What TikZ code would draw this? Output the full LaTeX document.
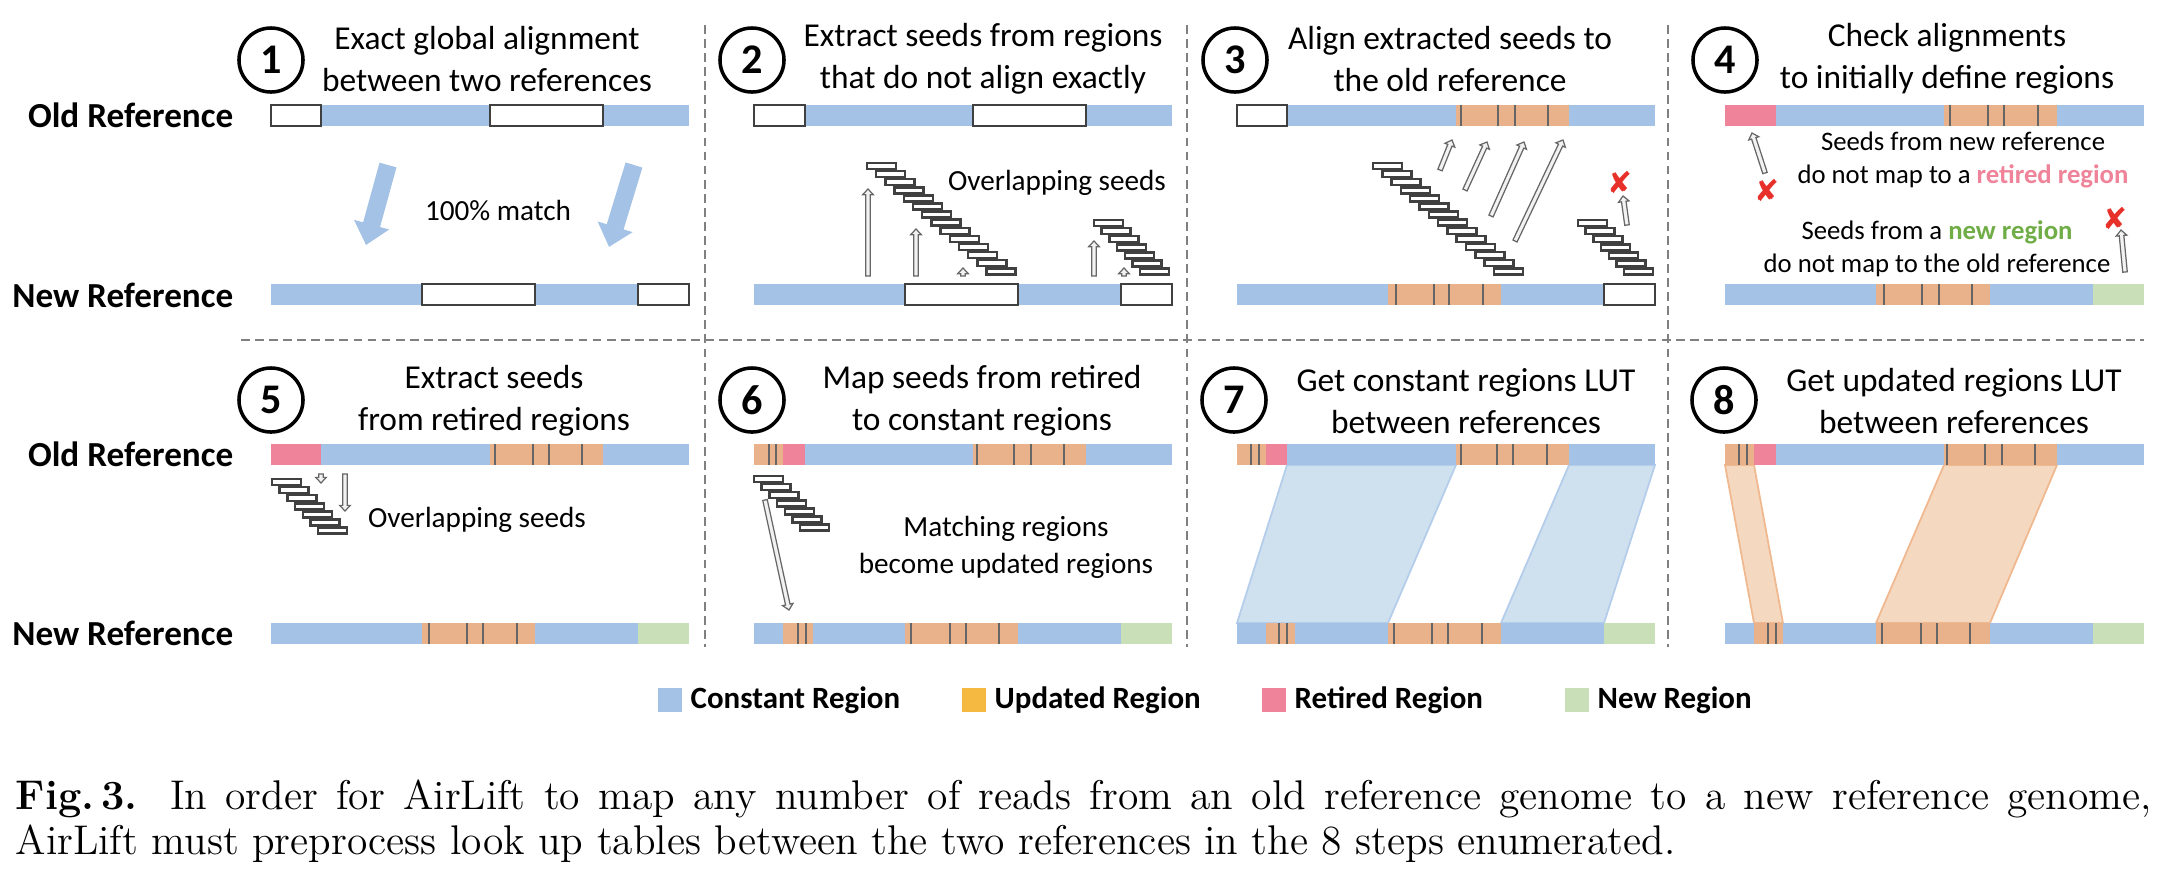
\documentclass[tikz,border=0pt]{standalone}
\usepackage{fontspec}
\newfontfamily\calib{Carlito}
\newfontfamily\symb{DejaVu Sans}
\usetikzlibrary{arrows.meta, calc}

\definecolor{constblue}{HTML}{A4C2E5}
\definecolor{updorange}{HTML}{EAB28A}
\definecolor{retpink}{HTML}{EF8399}
\definecolor{newgreen}{HTML}{C9DFB8}
\definecolor{legorange}{HTML}{F5B942}
\definecolor{mapblue}{HTML}{CFE0EF}
\definecolor{mapblueline}{HTML}{B4CDEA}
\definecolor{maporange}{HTML}{F4D8C0}
\definecolor{maporangeline}{HTML}{F0B88E}
\definecolor{seedgray}{HTML}{404040}
\definecolor{xred}{HTML}{E8302A}
\definecolor{txtgreen}{HTML}{70AD47}

% hollow seed arrow: #1 tail, #2 tip
\newcommand{\hollowarrow}[2]{%
  \coordinate (hb) at ($(#2)!1.6pt!(#1)$);
  \filldraw[hollow] ($(#1)!0.65pt!90:(#2)$) -- ($(hb)!0.65pt!-90:(#1)$)
    -- ($(hb)!1.5pt!-90:(#1)$) -- (#2) -- ($(hb)!1.5pt!90:(#1)$)
    -- ($(hb)!0.65pt!90:(#1)$) -- ($(#1)!0.65pt!-90:(#2)$) -- cycle;}

\begin{document}
\begin{tikzpicture}[x=0.01cm, y=-0.01cm,
  creg/.style ={fill=constblue},
  ureg/.style ={fill=updorange},
  rreg/.style ={fill=retpink},
  nreg/.style ={fill=newgreen},
  wbox/.style ={draw=seedgray, fill=white, line width=0.8pt},
  seam/.style ={draw=black!60, line width=0.6pt},
  seedbox/.style={draw=seedgray, fill=white, line width=0.7pt},
  hollow/.style={draw=black!60, fill=black!5, line width=0.35pt, line join=miter},
  bigarrow/.style={draw=constblue, line width=5pt, -{Triangle[length=6pt, width=10pt]}},
  sep/.style  ={draw=black!50, line width=0.5pt, dash pattern=on 2.5pt off 1.5pt},
  num/.style  ={circle, draw, line width=1pt, minimum size=6.4mm, inner sep=0pt,
                font=\calib\bfseries\fontsize{12}{12}\selectfont},
  steptitle/.style={align=center, inner sep=0pt, font=\calib\fontsize{9.5}{12}\selectfont},
  lbl/.style  ={anchor=east, inner sep=0pt, font=\calib\bfseries\fontsize{10}{11}\selectfont},
  note/.style ={align=center, inner sep=0pt, font=\calib\fontsize{8.3}{10.5}\selectfont},
  smallnote/.style={align=center, inner sep=0pt, font=\calib\fontsize{7.6}{9.4}\selectfont},
  xmark/.style={text=xred, inner sep=0pt, font=\symb\fontsize{8.5}{9}\selectfont},
  legsq/.style={minimum size=2.4mm, inner sep=0pt},
  legtxt/.style={anchor=west, inner sep=0pt, font=\calib\bfseries\fontsize{8.8}{10}\selectfont},
]
\useasboundingbox (0,0) rectangle (2162,884);

% panel separators
\draw[sep] (705,25) -- (705,647);
\draw[sep] (1187,25) -- (1187,647);
\draw[sep] (1668,25) -- (1668,647);
\draw[sep] (241,340) -- (2144,340);

% row labels
\node[lbl] (old1) at (234,115) {Old Reference};
\node[lbl] (new1) at (234,295) {New Reference};
\node[lbl] (old2) at (234,454) {Old Reference};
\node[lbl] (new2) at (234,633) {New Reference};

% step numbers and titles
\node[num] (n1) at (271,60)  {1};
\node[num] (n2) at (752,60)  {2};
\node[num] (n3) at (1235,60) {3};
\node[num] (n4) at (1725,60) {4};
\node[num] (n5) at (271,400) {5};
\node[num] (n6) at (752,400) {6};
\node[num] (n7) at (1234,400) {7};
\node[num] (n8) at (1724,400) {8};
\node[steptitle] (t1) at (487,59)  {Exact global alignment\\between two references};
\node[steptitle] (t2) at (983,59)  {Extract seeds from regions\\that do not align exactly};
\node[steptitle] (t3) at (1450,59) {Align extracted seeds to\\the old reference};
\node[steptitle] (t4) at (1947,59) {Check alignments\\to initially define regions};
\node[steptitle] (t5) at (494,401) {Extract seeds\\from retired regions};
\node[steptitle] (t6) at (982,401) {Map seeds from retired\\to constant regions};
\node[steptitle] (t7) at (1466,401) {Get constant regions LUT\\between references};
\node[steptitle] (t8) at (1954,401) {Get updated regions LUT\\between references};

% step 7 and 8 mappings
\filldraw[fill=mapblue, draw=mapblueline, line width=0.5pt]
  (1287,465) -- (1456,465) -- (1388,623) -- (1237,623) -- cycle;
\filldraw[fill=mapblue, draw=mapblueline, line width=0.5pt]
  (1569,465) -- (1655,465) -- (1604,623) -- (1501,623) -- cycle;
\filldraw[fill=maporange, draw=maporangeline, line width=0.5pt]
  (1725,465) -- (1754,465) -- (1783,623) -- (1754,623) -- cycle;
\filldraw[fill=maporange, draw=maporangeline, line width=0.5pt]
  (1944,465) -- (2057,465) -- (1990,623) -- (1876,623) -- cycle;

% step 1
\fill[creg] (271,105) rectangle (689,126);
\draw[wbox] (271,105) rectangle (321,126);
\draw[wbox] (490,105) rectangle (603,126);
\fill[creg] (271,284) rectangle (689,305);
\draw[wbox] (422,284) rectangle (535,305);
\draw[wbox] (638,284) rectangle (689,305);
\draw[bigarrow] (388,165) -- (366,245);
\draw[bigarrow] (634,165) -- (609,247);
\node[note] (m1) at (498,210) {100\% match};

% step 2
\fill[creg] (754,105) rectangle (1172,126);
\draw[wbox] (754,105) rectangle (805,126);
\draw[wbox] (973,105) rectangle (1086,126);
\fill[creg] (754,284) rectangle (1172,305);
\draw[wbox] (905,284) rectangle (1018,305);
\draw[wbox] (1121,284) rectangle (1172,305);
\foreach \i in {0,...,13}
  \draw[seedbox] ({867+9.2*\i},{163+8.1*\i}) rectangle ++(29,6);
\foreach \i in {0,...,6}
  \draw[seedbox] ({1094+7.7*\i},{220+8.1*\i}) rectangle ++(29,6);
\hollowarrow{868,276}{868,189}
\hollowarrow{916,276}{916,229}
\hollowarrow{963,276}{963,268}
\hollowarrow{1094,276}{1094,241}
\hollowarrow{1124,276}{1124,268}
\node[note] (ov2) at (1057,183) {Overlapping seeds};

% step 3
\fill[creg] (1237,105) rectangle (1655,126);
\draw[wbox] (1237,105) rectangle (1287,126);
\fill[ureg] (1456,105) rectangle (1569,126);
\foreach \x in {1461,1498,1515,1548} \draw[seam] (\x,105) -- (\x,126);
\fill[creg] (1237,284) rectangle (1655,305);
\fill[ureg] (1388,284) rectangle (1501,305);
\foreach \x in {1396,1434,1449,1483} \draw[seam] (\x,284) -- (\x,305);
\draw[wbox] (1604,284) rectangle (1655,305);
\foreach \i in {0,...,13}
  \draw[seedbox] ({1373+9.3*\i},{163+8.1*\i}) rectangle ++(29,6);
\foreach \i in {0,...,6}
  \draw[seedbox] ({1578+7.7*\i},{220+8.1*\i}) rectangle ++(29,6);
\hollowarrow{1440,170}{1452,140}
\hollowarrow{1465,190}{1487,142}
\hollowarrow{1491,216}{1524,142}
\hollowarrow{1515,241}{1563,140}
\hollowarrow{1627,225}{1623,196}
\node[xmark] (x3) at (1620,182) {✘};

% step 4
\fill[creg] (1725,105) rectangle (2144,126);
\fill[rreg] (1725,105) rectangle (1776,126);
\fill[ureg] (1944,105) rectangle (2057,126);
\foreach \x in {1950,1988,2004,2038} \draw[seam] (\x,105) -- (\x,126);
\fill[creg] (1725,284) rectangle (2144,305);
\fill[ureg] (1876,284) rectangle (1990,305);
\foreach \x in {1884,1922,1939,1972} \draw[seam] (\x,284) -- (\x,305);
\fill[nreg] (2093,284) rectangle (2144,305);
\hollowarrow{1765,173}{1752,133}
\hollowarrow{2125,272}{2121,230}
\node[xmark] (x4a) at (1767,190) {✘};
\node[xmark] (x4b) at (2115,218) {✘};
\node[smallnote] (s4a) at (1963,160)
  {Seeds from new reference\\do not map to a {\bfseries\color{retpink}retired region}};
\node[smallnote] (s4b) at (1937,249)
  {Seeds from a {\bfseries\color{txtgreen}new region}\\do not map to the old reference};

% step 5
\fill[creg] (271,444) rectangle (689,465);
\fill[rreg] (271,444) rectangle (321,465);
\fill[ureg] (490,444) rectangle (603,465);
\foreach \x in {495,533,549,582} \draw[seam] (\x,444) -- (\x,465);
\fill[creg] (271,623) rectangle (689,644);
\fill[ureg] (422,623) rectangle (535,644);
\foreach \x in {429,467,483,517} \draw[seam] (\x,623) -- (\x,644);
\fill[nreg] (638,623) rectangle (689,644);
\foreach \i in {0,...,6}
  \draw[seedbox] ({272+7.7*\i},{479+8.1*\i}) rectangle ++(29,6);
\hollowarrow{321,474}{321,483}
\hollowarrow{345,474}{345,511}
\node[note] (ov5) at (477,520) {Overlapping seeds};

% step 6
\fill[creg] (754,444) rectangle (1172,465);
\fill[ureg] (754,444) rectangle (783,465);
\foreach \x in {769,776} \draw[seam] (\x,444) -- (\x,465);
\fill[rreg] (783,444) rectangle (805,465);
\fill[ureg] (973,444) rectangle (1086,465);
\foreach \x in {977,1014,1031,1064} \draw[seam] (\x,444) -- (\x,465);
\fill[creg] (754,623) rectangle (1172,644);
\fill[ureg] (783,623) rectangle (813,644);
\foreach \x in {798,806} \draw[seam] (\x,623) -- (\x,644);
\fill[ureg] (905,623) rectangle (1018,644);
\foreach \x in {911,950,966,999} \draw[seam] (\x,623) -- (\x,644);
\fill[nreg] (1121,623) rectangle (1172,644);
\foreach \i in {0,...,6}
  \draw[seedbox] ({754+7.7*\i},{476+8.1*\i}) rectangle ++(29,6);
\hollowarrow{765,500}{789,610}
\node[note] (m6) at (1006,547) {Matching regions\\become updated regions};

% step 7
\fill[creg] (1237,444) rectangle (1655,465);
\fill[ureg] (1237,444) rectangle (1266,465);
\foreach \x in {1251,1259} \draw[seam] (\x,444) -- (\x,465);
\fill[rreg] (1266,444) rectangle (1287,465);
\fill[ureg] (1456,444) rectangle (1569,465);
\foreach \x in {1461,1497,1513,1547} \draw[seam] (\x,444) -- (\x,465);
\fill[creg] (1237,623) rectangle (1655,644);
\fill[ureg] (1266,623) rectangle (1295,644);
\foreach \x in {1279,1287} \draw[seam] (\x,623) -- (\x,644);
\fill[ureg] (1388,623) rectangle (1501,644);
\foreach \x in {1394,1432,1448,1482} \draw[seam] (\x,623) -- (\x,644);
\fill[nreg] (1604,623) rectangle (1655,644);

% step 8
\fill[creg] (1725,444) rectangle (2144,465);
\fill[ureg] (1725,444) rectangle (1754,465);
\foreach \x in {1739,1747} \draw[seam] (\x,444) -- (\x,465);
\fill[rreg] (1754,444) rectangle (1776,465);
\fill[ureg] (1944,444) rectangle (2057,465);
\foreach \x in {1947,1985,2002,2035} \draw[seam] (\x,444) -- (\x,465);
\fill[creg] (1725,623) rectangle (2144,644);
\fill[ureg] (1754,623) rectangle (1783,644);
\foreach \x in {1768,1776} \draw[seam] (\x,623) -- (\x,644);
\fill[ureg] (1876,623) rectangle (1990,644);
\foreach \x in {1882,1921,1937,1970} \draw[seam] (\x,623) -- (\x,644);
\fill[nreg] (2093,623) rectangle (2144,644);

% legend
\node[legsq, fill=constblue] (lc) at (670,700) {};
\node[legtxt] (lct) at (690,700) {Constant Region};
\node[legsq, fill=legorange] (lu) at (974,700) {};
\node[legtxt] (lut) at (994,700) {Updated Region};
\node[legsq, fill=retpink] (lr) at (1274,700) {};
\node[legtxt] (lrt) at (1294,700) {Retired Region};
\node[legsq, fill=newgreen] (ln) at (1577,700) {};
\node[legtxt] (lnt) at (1597,700) {New Region};

% caption
\node[anchor=north west, inner sep=0pt, text width=21.35cm, align=justify,
      font=\fontsize{11.8}{12.8}\selectfont] (cap) at (15,779)
  {\textbf{Fig.\,3.} In order for AirLift to map any number of reads from an old reference genome to a new reference genome,\linebreak
   AirLift must preprocess look up tables between the two references in the 8 steps enumerated.};
\end{tikzpicture}
\end{document}
